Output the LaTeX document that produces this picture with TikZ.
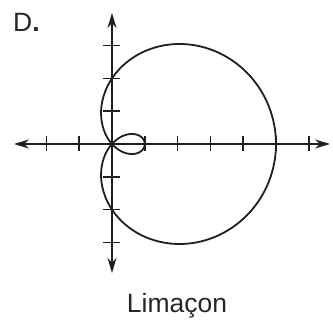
\documentclass[tikz,border=0pt]{standalone}
\usepackage{fontspec}
\setmainfont{Liberation Sans}
\usetikzlibrary{arrows.meta}
\begin{document}
\begin{tikzpicture}[x=1pt,y=1pt,
  axisline/.style={line width=1.8pt, draw=black!88, -{Stealth[length=15pt,width=9pt]}},
  tickmark/.style={line width=1.5pt, draw=black!88},
  curveline/.style={line width=1.8pt, draw=black!88},
  labeltext/.style={font=\fontsize{26.5}{30}\selectfont, text=black!85, inner sep=0pt}]
\useasboundingbox (-112,-176) rectangle (221,144);
\def\u{32.8}
\coordinate (O) at (0,0);
\coordinate (xl) at (-98,0);
\coordinate (xr) at (218,0);
\coordinate (yt) at (0,131);
\coordinate (yb) at (0,-129);
\draw[axisline] (O) -- (xl);
\draw[axisline] (O) -- (xr);
\draw[axisline] (O) -- (yt);
\draw[axisline] (O) -- (yb);
\foreach \k in {-2,-1,1,2,3,4,5,6} \draw[tickmark] (\k*\u,-7.5) -- (\k*\u,7.5);
\foreach \k in {-3,-2,-1,1,2,3} \draw[tickmark] (-8.5,\k*\u) -- (8.5,\k*\u);
\draw[curveline] plot[domain=0:360, samples=300, smooth]
  ({(2+3*cos(\x))*cos(\x)*\u}, {(2+3*cos(\x))*sin(\x)*\u}) -- cycle;
\node[labeltext, anchor=base west] (lbl) at (-99,112) {D\textbf{.}};
\node[labeltext, anchor=base] (name) at (65,-169) {Limaçon};
\end{tikzpicture}
\end{document}
